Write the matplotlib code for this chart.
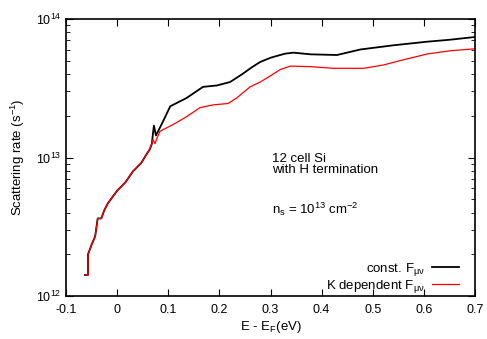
import numpy as np
import matplotlib
matplotlib.use("Agg")
import matplotlib.pyplot as plt

plt.rcParams['font.family'] = ['Liberation Sans', 'DejaVu Sans']
plt.rcParams['mathtext.fontset'] = 'custom'
plt.rcParams['mathtext.rm'] = 'Liberation Sans'
plt.rcParams['mathtext.it'] = 'Liberation Sans'

# shared low-energy part (both curves overlap)
e_low = [-0.063, -0.057, -0.057, -0.050, -0.043, -0.038, -0.031, -0.025, -0.018, -0.010,
         0.0, 0.016, 0.031, 0.047, 0.057, 0.064, 0.068]
log_low = [12.152, 12.152, 12.30, 12.37, 12.43, 12.56, 12.56, 12.62, 12.67, 12.71,
           12.76, 12.82, 12.90, 12.96, 13.02, 13.06, 13.10]

# const. F (black)
e_const = [0.070, 0.072, 0.076, 0.083, 0.091, 0.104, 0.120, 0.136, 0.152, 0.168, 0.195,
           0.221, 0.244, 0.263, 0.280, 0.300, 0.319, 0.329, 0.345, 0.378, 0.43, 0.476,
           0.54, 0.606, 0.65, 0.70]
log_const = [13.17, 13.23, 13.16, 13.21, 13.27, 13.37, 13.40, 13.43, 13.47, 13.51, 13.52,
             13.545, 13.60, 13.65, 13.69, 13.72, 13.74, 13.75, 13.757, 13.745, 13.74, 13.78,
             13.81, 13.836, 13.85, 13.87]

# K dependent F (red)
e_kdep = [0.070, 0.074, 0.079, 0.084, 0.100, 0.114, 0.136, 0.162, 0.188, 0.217, 0.234,
          0.26, 0.28, 0.300, 0.319, 0.339, 0.378, 0.423, 0.482, 0.521, 0.554, 0.606,
          0.65, 0.70]
log_kdep = [13.13, 13.10, 13.15, 13.19, 13.22, 13.247, 13.295, 13.36, 13.38, 13.39, 13.43,
            13.51, 13.545, 13.59, 13.635, 13.66, 13.656, 13.644, 13.644, 13.668, 13.70, 13.747,
            13.77, 13.785]

fig = plt.figure(figsize=(4.87, 3.39), dpi=100)
ax = fig.add_axes([66 / 487, 1 - 296 / 339, (475 - 66) / 487, (296 - 19) / 339])

x_k = e_low + e_kdep
y_k = 10 ** np.array(log_low + log_kdep)
x_c = e_low + e_const
y_c = 10 ** np.array(log_low + log_const)

ax.plot(x_c, y_c, color='black', lw=1.3, label=r'const. F$_{\mu\nu}$')
ax.plot(x_k, y_k, color='red', lw=0.9, label=r'K dependent F$_{\mu\nu}$')

ax.set_yscale('log')
ax.set_xlim(-0.1, 0.7)
ax.set_ylim(1e12, 1e14)
ax.set_xticks(np.arange(-0.1, 0.71, 0.1))
ax.set_xticklabels(['-0.1', '0', '0.1', '0.2', '0.3', '0.4', '0.5', '0.6', '0.7'])
ax.tick_params(which='both', direction='in', top=True, right=True, labelsize=9)
ax.tick_params(which='major', length=5)
ax.tick_params(which='minor', length=3)
ax.tick_params(axis='x', pad=6)
for s in ax.spines.values():
    s.set_linewidth(1.2)

ax.set_xlabel(r'E - E$_F$(eV)', fontsize=9.5, labelpad=2)
ax.set_ylabel(r'Scattering rate (s$^{-1}$)', fontsize=9.5, labelpad=6)

ax.text(0.302, 10 ** 12.99, '12 cell Si', fontsize=9.5, va='center')
ax.text(0.302, 10 ** 12.91, 'with H termination', fontsize=9.5, va='center')
ax.text(0.302, 10 ** 12.628, r'n$_s$ = 10$^{13}$ cm$^{-2}$', fontsize=9.5, va='center')

ax.legend(loc='lower right', frameon=False, markerfirst=False, fontsize=9.5,
          handlelength=2.1, handletextpad=0.5, labelspacing=0.0,
          borderaxespad=0.0, bbox_to_anchor=(0.975, -0.015))

fig.savefig('out.png', dpi=100)
